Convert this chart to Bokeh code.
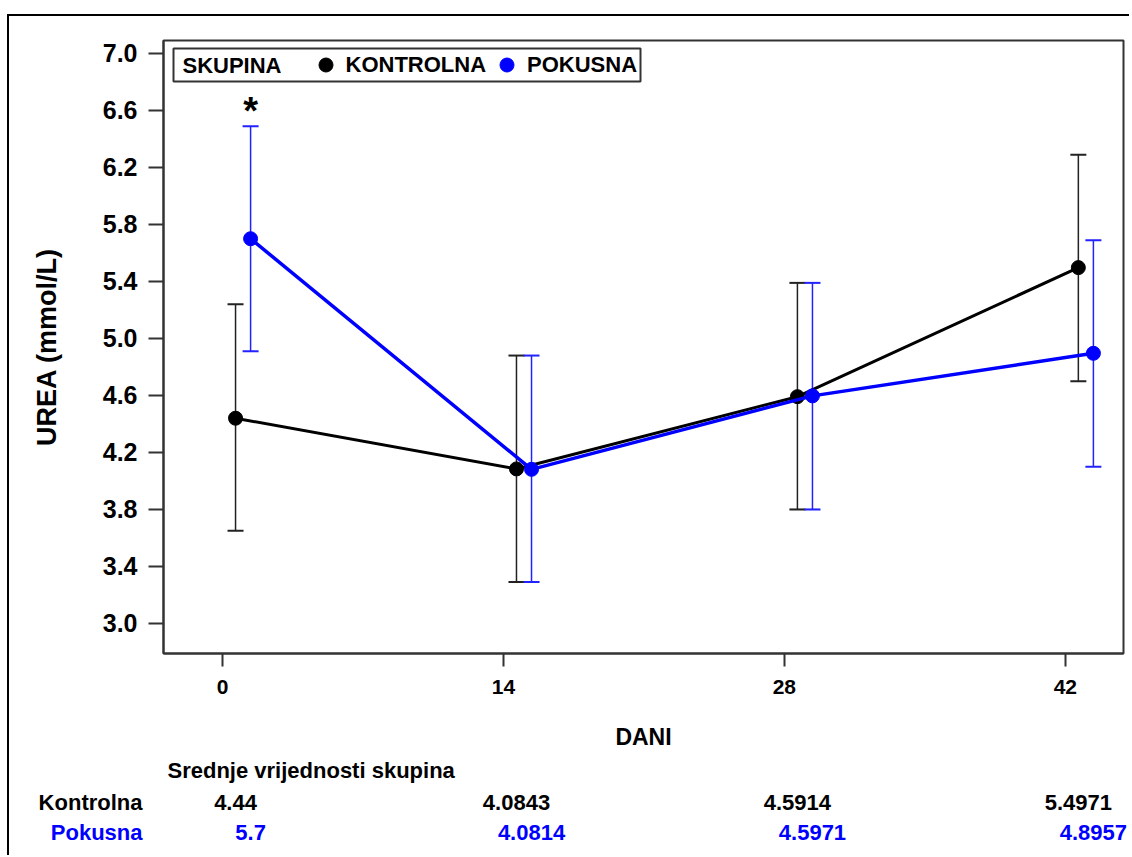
from bokeh.plotting import figure
from bokeh.layouts import column
from bokeh.models import (ColumnDataSource, Range1d, FixedTicker, Whisker, TeeHead,
                          Legend, LegendItem, LabelSet, Label, BoxAnnotation,
                          NumeralTickFormatter)
from bokeh.transform import dodge
from bokeh.core.properties import value
from bokeh.embed import file_html
from bokeh.resources import INLINE

# ---- data ----
days = [0, 14, 28, 42]
kontrolna_mean = [4.44, 4.0843, 4.5914, 5.4971]
kontrolna_lower = [3.65, 3.29, 3.80, 4.70]
kontrolna_upper = [5.24, 4.88, 5.39, 6.29]
pokusna_mean = [5.7, 4.0814, 4.5971, 4.8957]
pokusna_lower = [4.91, 3.29, 3.80, 4.10]
pokusna_upper = [6.49, 4.88, 5.39, 5.69]
kontrolna_labels = ["4.44", "4.0843", "4.5914", "5.4971"]
pokusna_labels = ["5.7", "4.0814", "4.5971", "4.8957"]
significance = ["*", "", "", ""]
x_ticks = [0, 14, 28, 42]
y_ticks = [3.0, 3.4, 3.8, 4.2, 4.6, 5.0, 5.4, 5.8, 6.2, 6.6, 7.0]

FONT = "Liberation Sans"
BLUE = "#0000ff"
AXC = "#333333"
K_OFF = 0.65
P_OFF = 1.4

X0, X1 = -2.94, 44.9
W = 1120
BL, BR = 154, 6          # left / right borders of the main plot
FRAME_W = W - BL - BR

src = ColumnDataSource(dict(
    day=days,
    k_mean=kontrolna_mean, k_lower=kontrolna_lower, k_upper=kontrolna_upper,
    p_mean=pokusna_mean, p_lower=pokusna_lower, p_upper=pokusna_upper,
    k_label=kontrolna_labels, p_label=pokusna_labels, sig=significance,
))

p = figure(width=W, height=741, x_range=Range1d(X0, X1),
           y_range=Range1d(2.789, 7.091), output_backend="svg",
           toolbar_location=None, min_border_left=BL, min_border_right=BR,
           min_border_top=24, min_border_bottom=104)
p.xgrid.visible = False
p.ygrid.visible = False
p.outline_line_color = AXC
p.outline_line_width = 2
p.outline_line_alpha = 1.0
p.background_fill_color = "white"
p.border_fill_color = "white"

# axes
p.xaxis.ticker = FixedTicker(ticks=x_ticks)
p.yaxis.ticker = FixedTicker(ticks=y_ticks)
p.yaxis.formatter = NumeralTickFormatter(format="0.0")
for ax in (p.xaxis[0], p.yaxis[0]):
    ax.axis_line_color = AXC
    ax.axis_line_width = 2
    ax.major_tick_line_color = AXC
    ax.major_tick_line_width = 2
    ax.major_tick_in = 0
    ax.minor_tick_line_color = None
    ax.major_label_text_font = FONT
    ax.major_label_text_font_style = "bold"
    ax.major_label_text_color = "black"
    ax.axis_label_text_font = FONT
    ax.axis_label_text_font_style = "bold"
    ax.axis_label_text_color = "black"
p.yaxis.major_tick_out = 15
p.yaxis.major_label_standoff = 11
p.yaxis.major_label_text_font_size = "25px"
p.yaxis.axis_label = "UREA (mmol/L)"
p.yaxis.axis_label_text_font_size = "27px"
p.yaxis.axis_label_standoff = 38
p.xaxis.major_tick_out = 13
p.xaxis.major_label_standoff = 13
p.xaxis.major_label_text_font_size = "21px"
p.xaxis.axis_label = "DANI"
p.xaxis.axis_label_text_font_size = "23px"
p.xaxis.axis_label_standoff = 27

# error bars
for off, lo, up, col in ((K_OFF, "k_lower", "k_upper", "#222222"),
                         (P_OFF, "p_lower", "p_upper", "#2222ff")):
    w = Whisker(source=src, base=dodge("day", off), lower=lo, upper=up,
                dimension="height", line_color=col, line_width=1.5,
                upper_head=TeeHead(size=16, line_color=col, line_width=2),
                lower_head=TeeHead(size=16, line_color=col, line_width=2),
                level="underlay")
    p.add_layout(w)

# series
p.line(x=dodge("day", K_OFF), y="k_mean", source=src, line_color="black", line_width=3)
k_pts = p.scatter(x=dodge("day", K_OFF), y="k_mean", source=src, size=14,
                  fill_color="black", line_color="black")
p.line(x=dodge("day", P_OFF), y="p_mean", source=src, line_color=BLUE, line_width=3.5)
p_pts = p.scatter(x=dodge("day", P_OFF), y="p_mean", source=src, size=14,
                  fill_color=BLUE, line_color=BLUE)

# significance mark
p.add_layout(LabelSet(x=dodge("day", P_OFF), y="p_upper", text="sig", source=src,
                      text_align="center", text_baseline="alphabetic", y_offset=2,
                      text_font=value(FONT), text_font_style="bold",
                      text_font_size="38px", text_color="black"))

# legend: framed box with group title and the two series
p.add_layout(BoxAnnotation(left=10, right=477, top=605, bottom=572,
                           left_units="screen", right_units="screen",
                           top_units="screen", bottom_units="screen",
                           fill_color="white", fill_alpha=1.0,
                           line_color=AXC, line_width=2, line_alpha=1.0))
p.add_layout(Label(x=19, y=588.5, x_units="screen", y_units="screen",
                   text="SKUPINA", text_align="left", text_baseline="middle",
                   text_color="black", text_font=FONT, text_font_style="bold",
                   text_font_size="22px"))
legend = Legend(items=[LegendItem(label="KONTROLNA", renderers=[k_pts]),
                       LegendItem(label="POKUSNA", renderers=[p_pts])],
                orientation="horizontal", location=(144.5, 571),
                margin=0, padding=0, spacing=3, label_standoff=3,
                glyph_width=35, glyph_height=35,
                label_text_font=FONT, label_text_font_style="bold",
                label_text_font_size="22px", label_text_color="black",
                border_line_alpha=0, background_fill_alpha=0)
p.add_layout(legend)

# table of group means below the chart
t = figure(width=W, height=98, output_backend="svg", toolbar_location=None,
           x_range=Range1d(X0 - BL * (X1 - X0) / FRAME_W,
                           X0 - BL * (X1 - X0) / FRAME_W + W * (X1 - X0) / FRAME_W),
           y_range=Range1d(0, 1), x_axis_location=None, y_axis_location=None,
           min_border_left=0, min_border_right=0, min_border_top=0,
           min_border_bottom=0, min_border=0)
t.xgrid.visible = False
t.ygrid.visible = False
t.outline_line_color = None
for fig in (p, t):
    if "frame_align" in fig.properties():
        fig.frame_align = False
t.add_layout(Label(x=158, y=85, x_units="screen", y_units="screen",
                   text="Srednje vrijednosti skupina", text_align="left",
                   text_baseline="middle", text_color="black", text_font=FONT,
                   text_font_style="bold", text_font_size="22px"))
t.add_layout(Label(x=133, y=53, x_units="screen", y_units="screen",
                   text="Kontrolna", text_align="right", text_baseline="middle",
                   text_color="black", text_font=FONT,
                   text_font_style="bold", text_font_size="22px"))
t.add_layout(Label(x=133, y=23, x_units="screen", y_units="screen",
                   text="Pokusna", text_align="right", text_baseline="middle",
                   text_color=BLUE, text_font=FONT,
                   text_font_style="bold", text_font_size="22px"))
t.add_layout(LabelSet(x=dodge("day", K_OFF), y=53, y_units="screen", text="k_label",
                      source=src, text_align="center", text_baseline="middle",
                      text_color="black", text_font=value(FONT),
                      text_font_style="bold", text_font_size="22px"))
t.add_layout(LabelSet(x=dodge("day", P_OFF), y=23, y_units="screen", text="p_label",
                      source=src, text_align="center", text_baseline="middle",
                      text_color=BLUE, text_font=value(FONT),
                      text_font_style="bold", text_font_size="22px"))

layout = column(p, t, spacing=0, margin=(14, 0, 0, 7),
                styles={"border-left": "2px solid black",
                        "border-top": "2px solid black"})

open("out.html", "w").write(file_html(layout, INLINE))
